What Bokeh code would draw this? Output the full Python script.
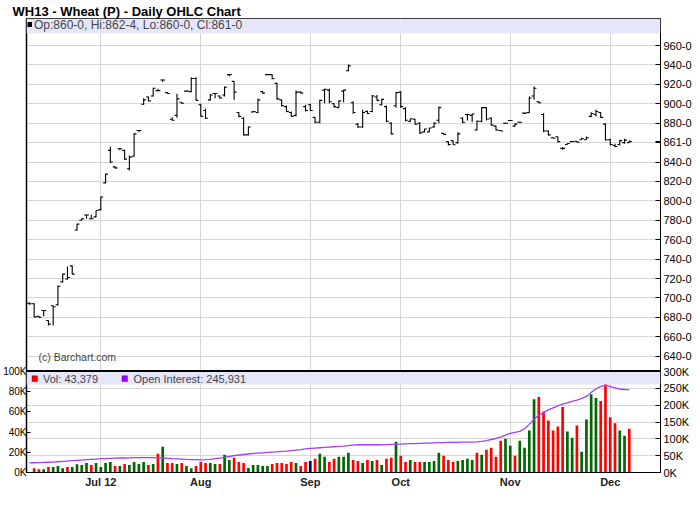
import pandas as pd
from bokeh.plotting import figure
from bokeh.models import (Range1d, LinearAxis, FixedTicker, Grid, Label,
                          BoxAnnotation, Span, ColumnDataSource)
from bokeh.embed import file_html
from bokeh.resources import INLINE

# ---------------- data ----------------
holidays = ["2012-07-04", "2012-09-03", "2012-11-22"]
dates = [d for d in pd.bdate_range("2012-06-11", "2012-12-07")
         if d.strftime("%Y-%m-%d") not in holidays]

opens = [694.5, 694, 681, 687, 676.8, 692, 693, 716.5, 719.5, 733,
         770, 780, 785.5, 781.5, 783.5, 791, 818.5, 852, 835, 853.6,
         852, 833, 846, 872.5, 899.5, 907, 908, 913.5, 924.5, 911.5,
         884, 888, 901.5, 913, 912.5, 926, 899, 893, 904, 910.5,
         908, 909, 930, 923, 891, 885, 868, 891.5, 891, 912.5,
         930, 930, 921, 904, 897, 891, 888, 912, 897, 899,
         886, 881, 914, 914, 900, 896, 913, 934, 901, 879,
         876, 892, 892, 907, 899, 897, 880, 898, 912, 895,
         882, 884, 880, 871, 871, 876, 883, 869.5, 861, 862,
         860, 885, 889, 888, 873, 882, 896, 885, 877, 872.5,
         880, 882.8, 877, 881, 890.3, 891, 908, 902, 889, 872,
         865, 866, 854, 858, 861, 861.4, 863, 863, 887, 889,
         891, 879, 863, 857, 858, 860, 860]
highs = [695.5, 694.5, 681.5, 687.5, 676.8, 692.2, 712.8, 724.9, 732.4, 733.4,
         776.4, 781.8, 785.6, 785.6, 790.1, 804.5, 827.9, 856, 835.4, 854.2,
         852.6, 846.7, 869.7, 872.5, 905.7, 907.5, 916.4, 915.4, 924.7, 911.9,
         886.2, 910.3, 901.6, 913.5, 927.4, 927.4, 900, 894.8, 910.3, 910.9,
         908.5, 917.8, 930.1, 923.3, 891.3, 886.2, 876.6, 892.5, 905.1, 912.9,
         930.5, 930.1, 921.6, 904.1, 898.2, 892, 913.7, 912.6, 898.9, 900,
         886.2, 904.1, 915.4, 915.4, 900.6, 903.4, 914.4, 940.4, 902.7, 880,
         893.8, 893, 908.9, 908.9, 905.1, 898.2, 881, 912, 913, 896.5,
         884.5, 884.5, 881, 874.2, 875.2, 881, 897.2, 869.7, 861.4, 862.2,
         870.7, 886.2, 889.7, 889.7, 882.8, 896.5, 896.5, 886.2, 877.6, 873,
         880.5, 883.2, 880, 881.5, 890.8, 907.5, 917.8, 902.7, 890.3, 872.5,
         865.5, 866.3, 855.3, 859.4, 861.4, 861.6, 865, 866.3, 891.3, 893.8,
         891.3, 880, 863.9, 858.8, 862.9, 863.9, 862.5]
lows = [693, 680.2, 680, 681.2, 671.6, 671.6, 692.2, 716.2, 719, 724.2,
        769.5, 779.8, 781.5, 781.3, 783.2, 790.1, 818.2, 838.8, 833, 852,
        842.3, 831.3, 845.7, 870.7, 898.9, 902.6, 907.5, 913, 922.3, 910.2,
        882.8, 885.6, 900, 912.5, 911.9, 903.4, 886.9, 884.5, 903.4, 905.7,
        905.1, 907.5, 928.4, 904.1, 886.2, 867.3, 867.3, 891, 890.3, 910.2,
        929.5, 925, 904.1, 897.2, 891.3, 886.9, 886.9, 910.9, 892, 892.8,
        880, 880, 900.6, 900.6, 895.8, 895.8, 901.6, 933.5, 889.7, 875.2,
        875.2, 889.5, 891.3, 903.4, 898.2, 881, 868.3, 896, 895.8, 882,
        881, 878.6, 869, 870.7, 870.7, 875.2, 880, 868.3, 857, 857.7,
        858.8, 880, 882.8, 881, 872.5, 881, 882.8, 877.6, 872.5, 872,
        879.5, 882.3, 876.6, 880.5, 889.8, 890.3, 904.1, 900.6, 870.7, 867.3,
        864.5, 860.4, 852.6, 858, 860.4, 860.4, 862.9, 862.9, 886.2, 886.9,
        885.6, 862.2, 857, 855.3, 857, 858.8, 860]
closes = [694, 680.5, 680, 687, 673, 691, 712, 724.5, 721, 724.5,
          776, 781.5, 785.5, 781.5, 790, 804, 827.5, 840, 834, 853.6,
          843, 845, 869, 872.5, 904, 903, 916, 913.5, 924.5, 910.5,
          883, 905, 900.5, 913, 926, 903.5, 887, 885, 909, 910.5,
          906, 917, 930, 912, 887, 868, 876, 892, 904, 911,
          930, 926, 905, 898, 892, 887, 912, 911, 893, 893,
          881, 903.5, 915, 902, 897, 903, 914, 939, 891, 876,
          891, 890, 908, 903.5, 904.5, 882, 869, 911.5, 897, 883,
          884.5, 879, 870, 874, 875, 880, 896, 868.5, 858, 857.8,
          869, 881, 889, 889.5, 882, 896, 884, 878, 873, 872,
          880, 882.8, 879, 881, 890.3, 906, 916, 901, 872, 868,
          864.5, 861, 854, 859, 861.2, 860.5, 864, 865, 890, 892,
          886, 863, 858, 856, 862, 862.5, 861]
volume = [0, 4200, 3200, 3200, 5500, 5500, 6500, 4200, 5500, 5500,
          8200, 7500, 9500, 7500, 9500, 5500, 9500, 10500, 6500, 6500,
          8500, 7500, 10500, 8500, 10500, 7500, 8500, 18500, 25500, 9500,
          9500, 8500, 9500, 6500, 4200, 6500, 10500, 9500, 9500, 8500,
          8500, 17500, 12500, 14500, 10500, 9500, 4500, 7500, 7500, 6500,
          6500, 8500, 9500, 9500, 8500, 10500, 9500, 6500, 10500, 11500,
          13500, 18500, 15500, 10500, 13500, 15500, 15500, 19500, 12500, 11500,
          9500, 12500, 11500, 12500, 7500, 13500, 14500, 30500, 16500, 10500,
          12500, 10500, 10500, 10500, 10500, 11500, 19500, 16500, 12500, 10500,
          11500, 12500, 13500, 12500, 19500, 17500, 22500, 24500, 15500, 31500,
          33500, 26500, 16500, 31500, 24500, 41500, 72500, 74800, 60500, 51500,
          41500, 45500, 64800, 40500, 34500, 46500, 20500, 52500, 77500, 73800,
          70800, 89800, 54800, 48800, 41500, 36500, 43379]
vol_dir = ["d", "d", "d", "u", "d", "u", "u", "u", "d", "u",
           "u", "u", "u", "d", "u", "u", "u", "u", "d", "u",
           "d", "u", "u", "u", "u", "d", "u", "d", "u", "d",
           "d", "u", "d", "u", "u", "d", "d", "d", "u", "u",
           "d", "u", "u", "d", "d", "d", "u", "u", "u", "u",
           "u", "d", "d", "d", "d", "d", "u", "d", "d", "n",
           "d", "u", "u", "d", "d", "u", "u", "u", "d", "d",
           "u", "d", "u", "d", "u", "d", "d", "u", "d", "d",
           "u", "d", "d", "u", "u", "u", "u", "d", "d", "d",
           "u", "u", "u", "u", "d", "u", "d", "d", "d", "d",
           "u", "u", "d", "u", "u", "u", "u", "d", "d", "d",
           "d", "d", "d", "u", "u", "d", "u", "u", "u", "u",
           "d", "d", "d", "d", "u", "u", "d"]
open_interest = [28500, 29000, 29500, 30000, 30500, 31000, 32000, 33000, 34000, 35000,
                 36000, 37000, 38000, 39000, 40000, 41000, 41500, 42000, 42500, 43000,
                 43000, 43500, 44000, 44000, 44000, 44000, 44000, 43500, 43000, 42000,
                 41000, 40500, 40000, 39000, 38500, 38000, 37500, 38000, 39000, 41000,
                 43000, 45000, 47500, 50000, 52000, 53500, 55000, 56500, 57500, 58500,
                 59500, 60500, 61500, 62500, 63500, 65000, 66500, 68000, 70000, 71500,
                 72500, 73500, 74500, 75500, 76500, 77500, 78500, 80000, 81500, 82500,
                 82500, 82500, 82500, 82500, 82500, 83000, 83500, 84000, 84500, 85000,
                 85500, 86000, 86500, 87000, 87500, 88000, 88500, 89000, 89500, 89500,
                 89500, 90000, 90000, 90500, 91000, 92500, 95000, 98000, 101000, 105000,
                 111000, 116000, 119000, 122000, 130000, 143000, 158000, 170000, 178000, 186000,
                 192000, 198000, 203000, 207000, 211000, 215000, 220000, 226000, 238000, 248000,
                 256000, 259000, 256000, 251000, 248000, 246500, 245931]

month_labels = ["Jul 12", "Aug", "Sep", "Oct", "Nov", "Dec"]
price_ticks = list(range(640, 961, 20))
vol_ticks = [0, 20000, 40000, 60000, 80000, 100000]
oi_ticks = [0, 50000, 100000, 150000, 200000, 250000, 300000]

# ---------------- geometry (reference pixel frame) ----------------
FR_LEFT, FR_RIGHT, FR_TOP, FR_BOT = 24, 658, 18, 472
BAR_PX = 4.761
BAR0 = 26.89
PXU = 310.7 / 320.0                     # px per price unit
XS = -(BAR0 - FR_LEFT) / BAR_PX
XE = XS + (FR_RIGHT - FR_LEFT) / BAR_PX
YE = 960 + (45 - FR_TOP) / PXU
Y0 = YE - (FR_BOT - FR_TOP) / PXU
VOL_PX = 101.0                          # px for 100K volume
VOL_END = 100000 * (FR_BOT - FR_TOP) / VOL_PX
OI_END = 3 * VOL_END


def px_x(rx):
    return XS + (rx - FR_LEFT) / BAR_PX


def px_y(ry):
    return YE - (ry - FR_TOP) / PXU


def fmt_price(v):
    w = int(v)
    return f"{w}-{int(round((v - w) * 8))}"


FONT = "Liberation Sans"
n = len(dates)
idx = list(range(n))
month_ticks = [i for i in range(1, n) if dates[i].month != dates[i - 1].month]

p = figure(frame_width=FR_RIGHT - FR_LEFT, frame_height=FR_BOT - FR_TOP,
           x_range=Range1d(XS, XE), y_range=Range1d(Y0, YE),
           x_axis_location=None, y_axis_location=None,
           output_backend="svg", toolbar_location=None,
           min_border_left=FR_LEFT, min_border_right=34, min_border_top=FR_TOP,
           min_border_bottom=24)
for g in p.grid:
    g.visible = False
p.outline_line_color = "black"
p.background_fill_color = "white"
p.extra_y_ranges = {"vol": Range1d(0, VOL_END), "oi": Range1d(0, OI_END)}

p.title.text = "WH13 - Wheat (P) - Daily OHLC Chart"
p.title.text_font = FONT
p.title.text_font_size = "13px"
p.title.text_font_style = "bold"
p.title.standoff = 0
p.title.offset = -14
p.title.text_color = "black"

GRID = "#d6d6d6"
p.add_layout(Grid(dimension=0, ticker=FixedTicker(ticks=month_ticks),
                  grid_line_color=GRID))
p.add_layout(Grid(dimension=1, ticker=FixedTicker(ticks=price_ticks),
                  grid_line_color=GRID))
p.add_layout(Grid(dimension=1, ticker=FixedTicker(ticks=oi_ticks[1:-1]),
                  y_range_name="oi", grid_line_color=GRID))

# ---------------- OHLC ----------------
src = ColumnDataSource(dict(
    x=idx, o=opens, h=highs, l=lows, c=closes,
    xl=[i - 0.5 for i in idx], xr=[i + 0.5 for i in idx]))
p.segment(x0="x", y0="l", x1="x", y1="h", source=src, line_color="black", line_width=1.1)
p.segment(x0="xl", y0="o", x1="x", y1="o", source=src, line_color="black", line_width=1.1)
p.segment(x0="x", y0="c", x1="xr", y1="c", source=src, line_color="black", line_width=1.1)

# ---------------- volume + OI ----------------
cmap = {"u": "#006600", "d": "#ff0000", "n": "#000080"}
vsrc = ColumnDataSource(dict(x=idx, v=volume, col=[cmap[d] for d in vol_dir]))
p.vbar(x="x", top="v", bottom=0, width=0.56, source=vsrc, fill_color="col",
       line_color=None, y_range_name="vol")
p.line(idx, open_interest, y_range_name="oi", line_color="#a040ff", line_width=1.3)

# divider between panels
p.add_layout(Span(location=px_y(370.5), dimension="width", line_color="black",
                  line_width=2))

# legend bands
p.add_layout(BoxAnnotation(top=YE, bottom=px_y(33), fill_color="#e6e6fa",
                           fill_alpha=1, line_color=None))
p.add_layout(BoxAnnotation(top=px_y(371.5), bottom=px_y(384), fill_color="#e6e6fa",
                           fill_alpha=1, line_color=None))

# price legend
p.add_layout(BoxAnnotation(left=px_x(25), right=px_x(29.5), top=px_y(21.5),
                           bottom=px_y(26.5), fill_color="black", fill_alpha=1,
                           line_color=None))
p.add_layout(Label(x=px_x(31.5), y=px_y(24.3),
                   text=f"Op:{fmt_price(opens[-1])}, Hi:{fmt_price(highs[-1])}, "
                        f"Lo:{fmt_price(lows[-1])}, Cl:{fmt_price(closes[-1])}",
                   text_font=FONT, text_font_size="12px", text_baseline="middle"))

# volume legend
p.add_layout(BoxAnnotation(left=px_x(29.5), right=px_x(35), top=px_y(375.2),
                           bottom=px_y(381), fill_color="#ff0000", fill_alpha=1,
                           line_color="black", line_width=1))
p.add_layout(Label(x=px_x(40.5), y=px_y(378.3), text=f"Vol: {volume[-1]:,}",
                   text_font=FONT, text_font_size="11px", text_baseline="middle"))
p.add_layout(BoxAnnotation(left=px_x(119.5), right=px_x(125), top=px_y(375.2),
                           bottom=px_y(381), fill_color="#9900ff", fill_alpha=1,
                           line_color="black", line_width=1))
p.add_layout(Label(x=px_x(131), y=px_y(378.3),
                   text=f"Open Interest: {open_interest[-1]:,}",
                   text_font=FONT, text_font_size="11px", text_baseline="middle"))

p.add_layout(Label(x=px_x(36), y=px_y(356.5), text="(c) Barchart.com",
                   text_font=FONT, text_font_size="10.5px", text_baseline="middle"))

# ---------------- axes ----------------
def oi_to_price(v):
    return Y0 + v / OI_END * (YE - Y0)


def vol_to_price(v):
    return Y0 + v / VOL_END * (YE - Y0)


last_close = float(closes[-1])
right_ticks = [float(t) for t in price_ticks] + [last_close] + [oi_to_price(v) for v in oi_ticks]
right_labels = {float(t): fmt_price(t) for t in price_ticks}
right_labels[860.0] = ""
right_labels[last_close] = fmt_price(last_close)
for v in oi_ticks:
    right_labels[oi_to_price(v)] = f"{v // 1000}K"
rax = LinearAxis(ticker=FixedTicker(ticks=right_ticks), major_label_overrides=right_labels,
                 major_tick_in=5, major_tick_out=0, major_label_standoff=3,
                 minor_tick_line_color=None, axis_line_color="black",
                 major_label_text_font=FONT, major_label_text_font_size="11px",
                 major_label_text_color="black")
p.add_layout(rax, "right")

left_ticks = [vol_to_price(v) for v in vol_ticks]
lax = LinearAxis(ticker=FixedTicker(ticks=left_ticks),
                 major_label_overrides={t: f"{v // 1000}K" for t, v in zip(left_ticks, vol_ticks)},
                 major_tick_in=4, major_tick_out=0, major_label_standoff=0,
                 minor_tick_line_color=None, axis_line_color="black",
                 axis_line_width=1.5, major_label_text_font=FONT,
                 major_label_text_font_size="10px", major_label_text_color="black")
p.add_layout(lax, "left")

xax = LinearAxis(ticker=FixedTicker(ticks=month_ticks),
                 major_label_overrides={t: lab for t, lab in zip(month_ticks, month_labels)},
                 major_tick_in=0, major_tick_out=0, major_label_standoff=3,
                 minor_tick_line_color=None, axis_line_color="black",
                 major_label_text_font=FONT, major_label_text_font_size="11px",
                 major_label_text_font_style="bold", major_label_text_color="#222222")
p.add_layout(xax, "below")

open("out.html", "w").write(file_html(p, INLINE))
